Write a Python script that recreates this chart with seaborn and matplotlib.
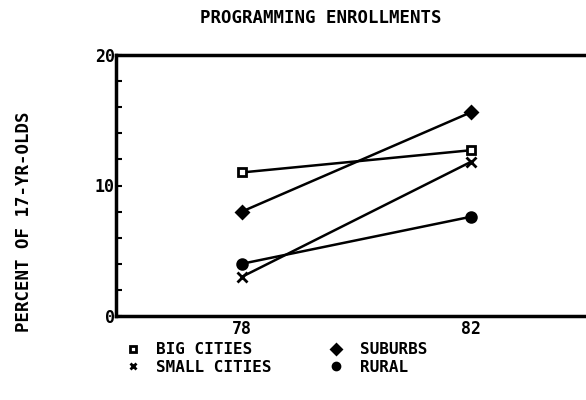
import matplotlib
matplotlib.use('Agg')
import matplotlib.pyplot as plt
import seaborn as sns
import pandas as pd
from matplotlib.lines import Line2D

# values
years = [78, 82]
areas = ['BIG CITIES', 'SMALL CITIES', 'SUBURBS', 'RURAL']
big_cities = [11, 12.7]
small_cities = [3, 11.8]
suburbs = [8, 15.6]
rural = [4, 7.6]

markers = {'BIG CITIES': 's', 'SMALL CITIES': 'x', 'SUBURBS': 'D', 'RURAL': 'o'}

df = pd.DataFrame({
    'year': years * 4,
    'pct': big_cities + small_cities + suburbs + rural,
    'area': [a for a in areas for _ in years],
})

sns.set_style('white')
plt.rcParams['font.family'] = ['DejaVu Sans Mono']
plt.rcParams['font.weight'] = 'bold'
plt.rcParams['text.color'] = 'black'
plt.rcParams['axes.labelcolor'] = 'black'
plt.rcParams['xtick.color'] = 'black'
plt.rcParams['ytick.color'] = 'black'

fig = plt.figure(figsize=(5.86, 4), dpi=100)
ax = fig.add_axes([0.198, 0.21, 0.81, 0.6525])

for a in areas:
    sub = df[df['area'] == a]
    kw = dict(marker=markers[a], color='black', linewidth=1.8, markersize=7,
              markeredgewidth=2, markeredgecolor='black')
    if a == 'BIG CITIES':
        kw['markerfacecolor'] = 'white'
        kw['markersize'] = 6
    if a == 'SUBURBS':
        kw['markersize'] = 6
    sns.lineplot(data=sub, x='year', y='pct', ax=ax, legend=False, **kw)

ax.set_xlim(75.8, 84.1)
ax.set_ylim(0, 20)
ax.set_xticks(years)
ax.set_xticklabels([str(y) for y in years], fontsize=12, fontweight='bold')
ax.set_yticks([0, 10, 20])
ax.set_yticklabels(['0', '10', '20'], fontsize=12, fontweight='bold')
ax.set_yticks(range(2, 20, 2), minor=True)
ax.tick_params(axis='y', which='minor', direction='in', length=4, width=1.5, left=True)
ax.tick_params(axis='y', which='major', direction='in', length=4, width=1.5, left=True, pad=1)
ax.tick_params(axis='x', length=0, pad=3)
ax.set_xlabel('')
ax.set_ylabel('PERCENT OF 17-YR-OLDS', fontsize=12.5, fontweight='bold')
ax.yaxis.set_label_coords(-0.175, 0.36)
for s in ['left', 'top', 'bottom']:
    ax.spines[s].set_linewidth(2.5)
    ax.spines[s].set_color('black')
ax.spines['right'].set_visible(False)

fig.text(0.548, 0.955, 'PROGRAMMING ENROLLMENTS', ha='center', va='center',
         fontsize=12.5, fontweight='bold')

handles = []
for a in areas:
    h = Line2D([], [], linestyle='none', marker=markers[a], color='black',
               markersize=5, markeredgewidth=2, markeredgecolor='black',
               markerfacecolor='white' if a == 'BIG CITIES' else 'black')
    handles.append(h)
fig.legend(handles, areas, loc='upper left', bbox_to_anchor=(0.188, 0.18),
           ncol=2, frameon=False, handletextpad=1.0,
           columnspacing=3.5, labelspacing=0.15, handlelength=1.0,
           prop={'weight': 'bold', 'size': 11.5})

fig.savefig('out.png', dpi=100)
